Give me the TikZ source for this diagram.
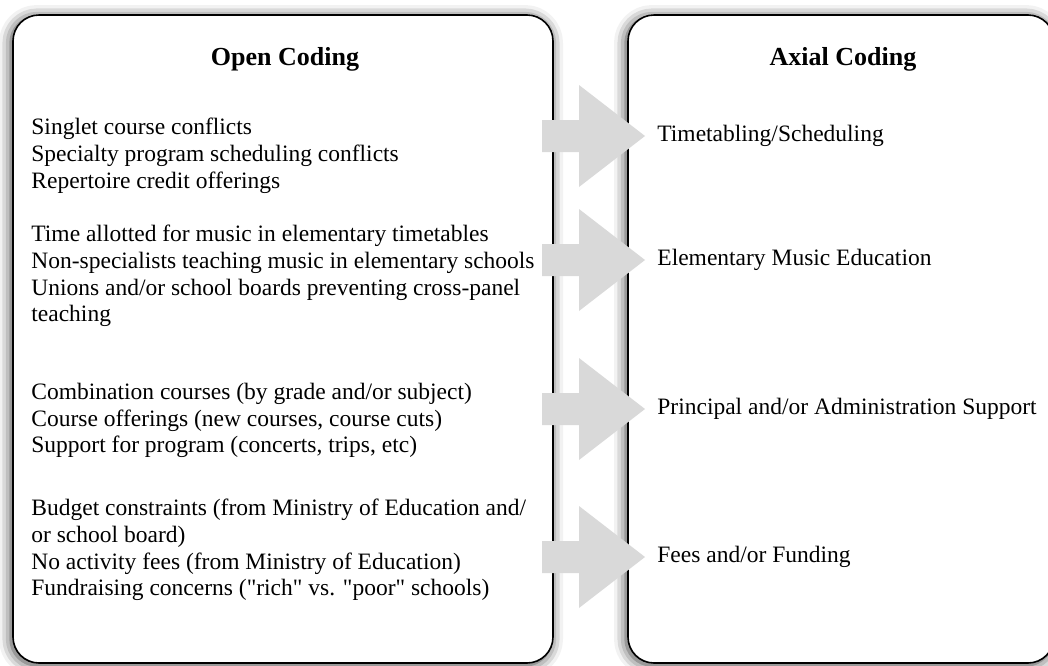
\documentclass[tikz,border=0pt]{standalone}
\usepackage{fontspec}
\setmainfont{Liberation Serif}
\usepackage{tikz}
\usetikzlibrary{calc,shadows.blur}

\begin{document}
\begin{tikzpicture}[x=0.5pt,y=-0.5pt]
    % `panel' is used for the two rounded boxes.
    % `codes' holds the lists on the left, `category' the labels on the right.
    % `bigarrow' is used for the grey block arrows.
    \tikzstyle{panel} = [draw,line width=0.8pt,fill=white,rounded corners=13pt,inner sep=0pt,
        blur shadow={shadow xshift=-1pt,shadow yshift=-1pt,shadow blur radius=6pt,shadow opacity=80}]
    \tikzstyle{heading} = [font=\fontsize{13}{15}\selectfont\bfseries]
    \tikzstyle{codes} = [anchor=north west,inner sep=0pt,align=left,font=\fontsize{11.75}{13.3}\selectfont]
    \tikzstyle{category} = [anchor=west,inner sep=0pt,font=\fontsize{11.75}{13.3}\selectfont]
    \tikzstyle{bigarrow} = [fill=gray!30]
    %
    \useasboundingbox (0,0) rectangle (1048,665);
    % Boxes and headings.
    \node[panel,minimum width=270pt,minimum height=324pt] (open) at (283,339) {};
    \node[panel,minimum width=213pt,minimum height=324pt] (axial) at (841,339) {};
    \node[heading] (opentitle) at (285,59) {Open Coding};
    \node[heading] (axialtitle) at (843,59) {Axial Coding};
    % Open codes.
    \node[codes] (oc1) at (31,118) {Singlet course conflicts\\Specialty program scheduling conflicts\\Repertoire credit offerings};
    \node[codes] (oc2) at (31,225) {Time allotted for music in elementary timetables\\Non-specialists teaching music in elementary schools\\Unions and/or school boards preventing cross-panel\\teaching};
    \node[codes] (oc3) at (31,383) {Combination courses (by grade and/or subject)\\Course offerings (new courses, course cuts)\\Support for program (concerts, trips, etc)};
    \node[codes] (oc4) at (31,499) {Budget constraints (from Ministry of Education and/\\or school board)\\No activity fees (from Ministry of Education)\\Fundraising concerns (\textquotedbl rich\textquotedbl{} vs. \textquotedbl poor\textquotedbl{} schools)};
    % Axial codes.
    \node[category] (ax1) at (657,136) {Timetabling/Scheduling};
    \node[category] (ax2) at (657,260) {Elementary Music Education};
    \node[category] (ax3) at (657,409) {Principal and/or Administration Support};
    \node[category] (ax4) at (657,557) {Fees and/or Funding};
    % Draw arrows.
    \foreach \c in {ax1,ax2,ax3,ax4}
        \fill[bigarrow] ($(\c.west)+(-115,-16)$) -- ++(37,0) -- ++(0,-35) -- ($(\c.west)+(-12,0)$)
            -- ++(-66,51) -- ++(0,-35) -- ++(-37,0) -- cycle;
    %
\end{tikzpicture}
\end{document}
